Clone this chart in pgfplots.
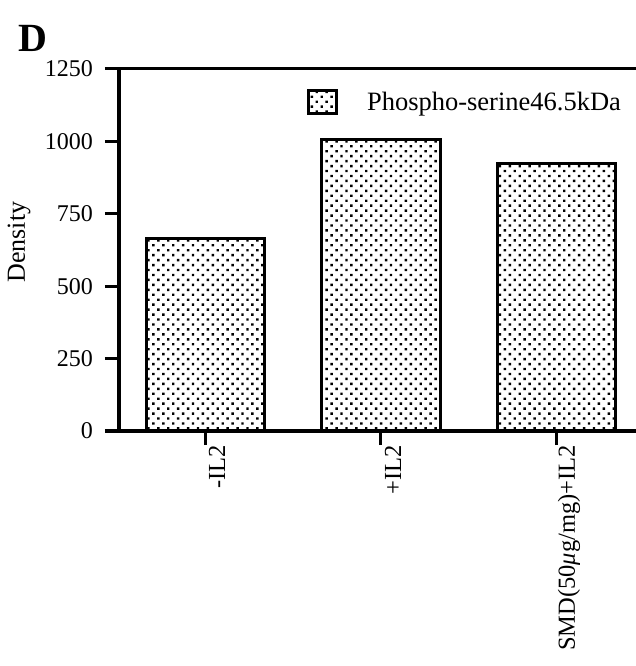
\documentclass[border=0pt]{standalone}
\usepackage{fontspec}
\setmainfont{Liberation Serif}
\usepackage{pgfplots}
\pgfplotsset{compat=1.18}
\usetikzlibrary{patterns.meta}

\newcommand{\fs}[1]{\fontsize{#1bp}{#1bp}\selectfont}

\begin{document}
\begin{tikzpicture}
\useasboundingbox (0,0) rectangle (636bp,666bp);

% panel letter
\node[font=\fs{40}\bfseries] at (33bp,628bp) {D};

\begin{axis}[
    at={(119bp,235bp)}, anchor=south west,
    scale only axis,
    width=521bp, height=362bp,
    xmin=-0.489, xmax=2.472,
    ymin=0, ymax=1250,
    ytick={0,250,500,750,1000,1250},
    xtick={0,1,2},
    xticklabels={-IL2,+IL2,SMD(50\textit{μ}g/mg)+IL2},
    xtick pos=bottom, ytick pos=left,
    tick align=outside,
    major tick length=14bp,
    separate axis lines,
    axis line style={line width=3bp, line cap=rect},
    major tick style={black, line width=3bp},
    /pgf/number format/assume math mode=true,
    /pgf/number format/1000 sep={},
    yticklabel style={font=\fs{24}, inner sep=0pt, xshift=-12bp},
    xticklabel style={font=\fs{24.5}, rotate=90, anchor=east, inner sep=0pt, yshift=-12bp},
    ylabel={Density},
    ylabel style={font=\fs{26}, at={(axis description cs:-0.192,0.522)}, anchor=center},
    legend style={draw=none, fill=none, font=\fs{26.5},
        at={(axis description cs:0.361,0.909)}, anchor=west,
        inner sep=0pt, column sep=0pt},
    legend cell align=left,
    legend image code/.code={
        \draw[#1, line width=2.5bp] (0bp,-11.5bp) rectangle (28bp,11.5bp);
        \node[anchor=west, inner sep=0pt] at (28bp,0) {\hspace*{27bp}};
    },
]
\addplot[ybar, bar width=118bp, draw=black, line width=3bp,
    pattern={Dots[angle=45, distance=7bp, radius=1.7bp]}]
    coordinates {(0,666) (1,1005) (2,925)};
\addlegendentry{Phospho-serine46.5kDa}
\end{axis}
\end{tikzpicture}
\end{document}
